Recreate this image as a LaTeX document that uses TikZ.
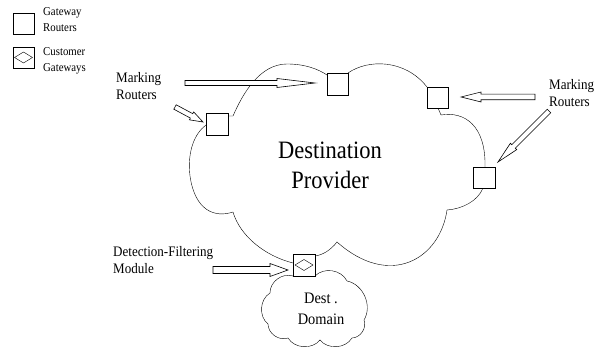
\documentclass[tikz,border=0pt]{standalone}
\usepackage{fontspec}
\setmainfont{Liberation Serif}[FakeStretch=0.9]
\usetikzlibrary{calc}
\tikzset{
  x=1pt,y=1pt,
  line width=0.7pt,
}
\tikzstyle{gateway}=[draw,fill=white,minimum size=21.5pt,inner sep=0pt]
\tikzstyle{custgw}=[gateway,path picture={
    \draw ([xshift=1.75pt]path picture bounding box.west)
      -- ([yshift=-5.25pt]path picture bounding box.north)
      -- ([xshift=-1.75pt]path picture bounding box.east)
      -- ([yshift=5.25pt]path picture bounding box.south) -- cycle;}]
\tikzstyle{hollow}=[draw,fill=white,line width=0.6pt,line join=miter]
\tikzstyle{marktext}=[font=\fontsize{14.5}{17}\selectfont,align=left,anchor=west,inner sep=0pt]
\tikzstyle{keytext}=[font=\fontsize{12}{16}\selectfont,align=left,anchor=west,inner sep=0pt]
% outlined arrow: tail, tip, shaft half width, head half width, head length
\newcommand{\hollowarrow}[5]{
  \coordinate (hb) at ($(#2)!#5!(#1)$);
  \draw[hollow] ($(#1)!#3!90:(#2)$) -- ($(hb)!#3!90:(#2)$) -- ($(hb)!#4!90:(#2)$)
    -- (#2) -- ($(hb)!#4!-90:(#2)$) -- ($(hb)!#3!-90:(#2)$) -- ($(#1)!#3!-90:(#2)$) -- cycle;
}
\begin{document}
\begin{tikzpicture}
  \useasboundingbox (0,0) rectangle (597,351);
  % legend
  \node[gateway] (keygw) at (23.5,327.5) {};
  \node[keytext] (keygwtext) at (43,331) {Gateway\\Routers};
  \node[custgw] (keycgw) at (23.5,293.5) {};
  \node[keytext] (keycgwtext) at (43,290) {Customer\\Gateways};
  % destination provider cloud
  \draw (228,235) -- (233,235) .. controls (243,258) and (260,287) .. (287,287)
    .. controls (305,287) and (318,282) .. (327,276);
  \draw (348,278) .. controls (368,292) and (405,292) .. (427,264);
  \draw (438,243) -- (441,236) .. controls (465,240) and (486,225) .. (485,184);
  \draw (483,163) .. controls (478,150) and (462,142) .. (447,141)
    .. controls (440,92) and (390,62) .. (337,109)
    .. controls (330,100) and (322,96) .. (315,95);
  \draw (293,88) .. controls (265,95) and (240,115) .. (233,139)
    .. controls (215,133) and (195,140) .. (190,175)
    .. controls (187,200) and (195,218) .. (206,226);
  % destination domain cloud
  \draw (315,75) to[bend left=55] (347,70) to[bend left=55] (364,31)
    to[bend left=55] (352,13) to[bend left=55] (320,11) to[bend left=55] (288,13)
    to[bend left=55] (268,27) to[bend left=55] (270,58) to[bend left=55] (293,75);
  % routers
  \node[gateway] (top) at (337.5,267) {};
  \node[gateway] (topright) at (437.5,253.5) {};
  \node[gateway] (left) at (217,227) {};
  \node[gateway] (right) at (484,173.5) {};
  \node[custgw] (dfm) at (304,86) {};
  % texts
  \node[font=\fontsize{25}{30}\selectfont,align=center] (provider) at (330,185.5) {Destination\\Provider};
  \node[font=\fontsize{16}{21}\selectfont,align=center] (domain) at (321,42) {Dest .\\Domain};
  \node[marktext] (markleft) at (116,265) {Marking\\Routers};
  \node[marktext] (markright) at (549,258) {Marking\\Routers};
  \node[marktext] (detect) at (113,91) {Detection-Filtering\\Module};
  % arrows
  \coordinate (a1tail) at (185,268);
  \coordinate (a1tip) at (315,268);
  \coordinate (a2tail) at (175,244);
  \coordinate (a2tip) at (203,229);
  \coordinate (a3tail) at (535,254);
  \coordinate (a3tip) at (461,254);
  \coordinate (a4tail) at (549,240);
  \coordinate (a4tip) at (498,189);
  \coordinate (a5tail) at (213,81);
  \coordinate (a5tip) at (288,81);
  \hollowarrow{a1tail}{a1tip}{2.5pt}{4.5pt}{38pt}
  \hollowarrow{a2tail}{a2tip}{2.5pt}{4.5pt}{13pt}
  \hollowarrow{a3tail}{a3tip}{2.8pt}{5pt}{20pt}
  \hollowarrow{a4tail}{a4tip}{2.5pt}{4.5pt}{22pt}
  \hollowarrow{a5tail}{a5tip}{3.5pt}{6.5pt}{18pt}
\end{tikzpicture}
\end{document}
